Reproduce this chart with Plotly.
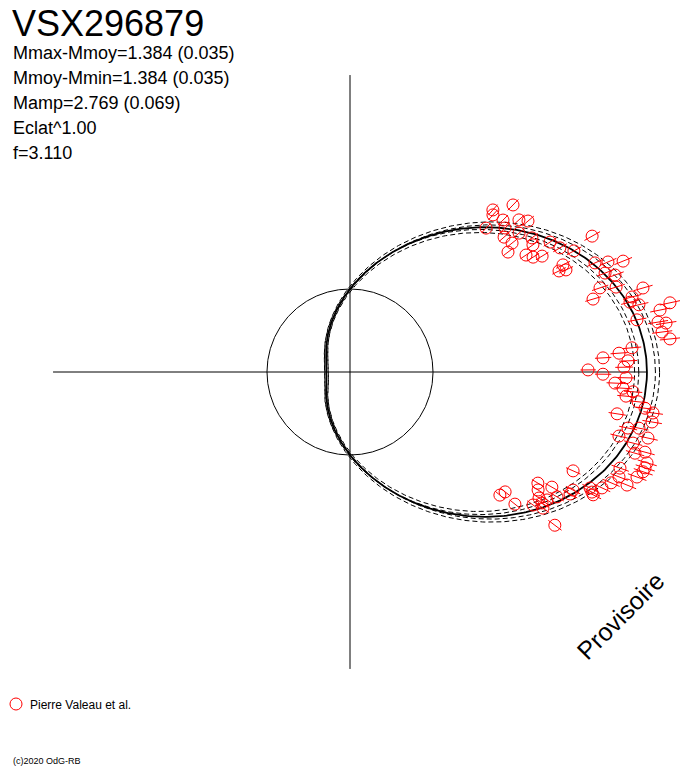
import numpy as np
import plotly.graph_objects as go

# ---------------- data ----------------
star_name = "VSX296879"
info_lines = ["Mmax-Mmoy=1.384 (0.035)", "Mmoy-Mmin=1.384 (0.035)",
              "Mamp=2.769 (0.069)", "Eclat^1.00", "f=3.110"]
half_amp = 1.384          # Mmax-Mmoy (mag)
half_amp_err = 0.035
obs_err = 0.035           # individual measurement error (mag)
observer = "Pierre Valeau et al."
watermark = "Provisoire"
copyright_txt = "(c)2020 OdG-RB"

# phase (degrees) and relative flux (mean flux = 1) of each observation
phase_deg = [45.7, 48.6, 47.7, 46.6, 44.8, 42.0, 40.3, 42.9, 39.4, 41.2,
             38.5, 37.2, 36.4, 34.8, 33.6, 32.1, 31.1, 33.0, 30.6, 28.4,
             29.3, 26.7, 25.8, 25.3, 24.0, 23.1, 22.1, 21.2, 20.1, 17.7,
             18.6, 16.7, 16.0, 14.9, 14.0, 13.1, 10.3, 11.3, 12.2, 9.2,
             8.8, 7.3, 5.9, 4.9, 4.0, 3.2, 2.3, 1.0, 0.5, -0.5,
             -1.2, -2.4, -3.4, -4.0, -5.0, -5.9, -7.0, -7.7, -8.9, -9.4,
             -11.4, -11.0, -13.4, -12.5, -14.1, -15.2, -15.9, -17.0, -18.0, -19.6,
             -18.8, -20.1, -21.3, -23.0, -22.2, -24.7, -26.4, -23.9, -30.6, -32.1,
             -29.7, -39.4, -37.7, -38.7, -33.7, -33.0, -31.1, -36.0, -35.2, -34.3,
             -27.9, -29.0, -25.8, -26.8, -36.8]
rel_flux = [2.812, 2.603, 2.559, 2.386, 2.598, 2.739, 2.812, 2.549, 2.636, 2.467,
            2.495, 2.390, 2.723, 2.684, 2.546, 2.604, 2.703, 2.874, 2.938, 3.067,
            3.345, 2.872, 2.797, 2.878, 3.231, 3.379, 3.551, 3.296, 3.400, 3.365,
            3.178, 3.057, 3.672, 3.516, 3.477, 3.574, 3.514, 3.809, 3.944, 3.759,
            3.853, 3.790, 3.876, 3.410, 3.249, 3.053, 3.352, 3.301, 2.868, 3.048,
            3.326, 3.195, 3.295, 3.418, 3.338, 3.489, 3.581, 3.684, 3.257, 3.688,
            3.417, 3.547, 3.331, 3.677, 3.516, 3.683, 3.570, 3.742, 3.738, 3.453,
            3.730, 3.682, 3.479, 3.417, 3.605, 3.342, 3.254, 2.940, 2.630, 2.675,
            2.800, 2.337, 2.362, 2.546, 2.737, 2.830, 2.913, 2.726, 2.845, 2.800,
            3.040, 3.031, 3.212, 3.282, 3.082]

# ---------------- geometry ----------------
PAGE_OFF = 8                      # default body margin of the html page
W, H = 688 - PAGE_OFF, 768 - PAGE_OFF
OX, OY, UNIT = 350, 372, 83.0     # origin position in window px and px per flux unit

def px2paper(x, y):
    return (x - PAGE_OFF) / W, 1 - (y - PAGE_OFF) / H

th = np.radians(np.array(phase_deg))
f = np.array(rel_flux)
px = f * np.cos(th)
py = f * np.sin(th)

# radial error segments
k = 10 ** (0.4 * obs_err)
ex, ey = [], []
for t, r in zip(th, f):
    ex += [r / k * np.cos(t), r * k * np.cos(t), None]
    ey += [r / k * np.sin(t), r * k * np.sin(t), None]

fig = go.Figure()

# model curve and its uncertainty envelopes
tt = np.linspace(0, 2 * np.pi, 721)
variants = [(half_amp + half_amp_err, 0.035), (half_amp - half_amp_err, -0.035),
            (half_amp + half_amp_err, -0.015), (half_amp - half_amp_err, 0.015)]
for a, off in variants:
    r = 10 ** (0.4 * a * np.cos(tt)) + off
    fig.add_trace(go.Scatter(x=r * np.cos(tt), y=r * np.sin(tt), mode="lines",
                             line=dict(color="black", width=1, dash="5px,3px"),
                             hoverinfo="skip", showlegend=False))
r = 10 ** (0.4 * half_amp * np.cos(tt))
fig.add_trace(go.Scatter(x=r * np.cos(tt), y=r * np.sin(tt), mode="lines",
                         line=dict(color="black", width=1.8),
                         hoverinfo="skip", showlegend=False))

# mean circle
fig.add_trace(go.Scatter(x=np.cos(tt), y=np.sin(tt), mode="lines",
                         line=dict(color="black", width=1),
                         hoverinfo="skip", showlegend=False))

# axes (length = maximum radius)
rmax = 10 ** (0.4 * half_amp)
fig.add_trace(go.Scatter(x=[-rmax, rmax, None, 0, 0], y=[0, 0, None, -rmax, rmax],
                         mode="lines", line=dict(color="black", width=1),
                         hoverinfo="skip", showlegend=False))

# observations
fig.add_trace(go.Scatter(x=ex, y=ey, mode="lines", line=dict(color="red", width=1),
                         hoverinfo="skip", showlegend=False))
fig.add_trace(go.Scatter(x=px, y=py, mode="markers", name=observer,
                         marker=dict(symbol="circle-open", size=12, color="red",
                                     line=dict(width=1)),
                         showlegend=False))

font = "Liberation Sans, Arial, sans-serif"
ann = []
x0, y0 = px2paper(10, 23)
ann.append(dict(text=star_name, x=x0, y=y0, xref="paper", yref="paper",
                xanchor="left", yanchor="middle", showarrow=False,
                font=dict(family=font, size=36, color="black")))
for i, t in enumerate(info_lines):
    x0, y0 = px2paper(11, 53 + 25 * i)
    ann.append(dict(text=t, x=x0, y=y0, xref="paper", yref="paper",
                    xanchor="left", yanchor="middle", showarrow=False,
                    font=dict(family=font, size=18, color="black")))
x0, y0 = px2paper(620, 616)
ann.append(dict(text=watermark, x=x0, y=y0, xref="paper", yref="paper",
                xanchor="center", yanchor="middle", showarrow=False, textangle=-45,
                font=dict(family=font, size=25, color="black")))
x0, y0 = px2paper(28, 705)
ann.append(dict(text=observer, x=x0, y=y0, xref="paper", yref="paper",
                xanchor="left", yanchor="middle", showarrow=False,
                font=dict(family=font, size=12, color="black")))
x0, y0 = px2paper(11, 761)
ann.append(dict(text=copyright_txt, x=x0, y=y0, xref="paper", yref="paper",
                xanchor="left", yanchor="middle", showarrow=False,
                font=dict(family=font, size=9, color="black")))

cx0, cy0 = px2paper(10, 698)
cx1, cy1 = px2paper(22, 710)
shapes = [dict(type="circle", xref="paper", yref="paper", x0=cx0, x1=cx1,
               y0=cy1, y1=cy0, line=dict(color="red", width=1))]

fig.update_layout(
    width=W, height=H, autosize=False,
    margin=dict(l=0, r=0, t=0, b=0),
    paper_bgcolor="white", plot_bgcolor="white",
    xaxis=dict(range=[(PAGE_OFF - OX) / UNIT, (688 - OX) / UNIT], visible=False,
               fixedrange=True),
    yaxis=dict(range=[(OY - 768) / UNIT, (OY - PAGE_OFF) / UNIT], visible=False,
               fixedrange=True),
    annotations=ann, shapes=shapes, showlegend=False,
)

fig.write_html("out.html")
